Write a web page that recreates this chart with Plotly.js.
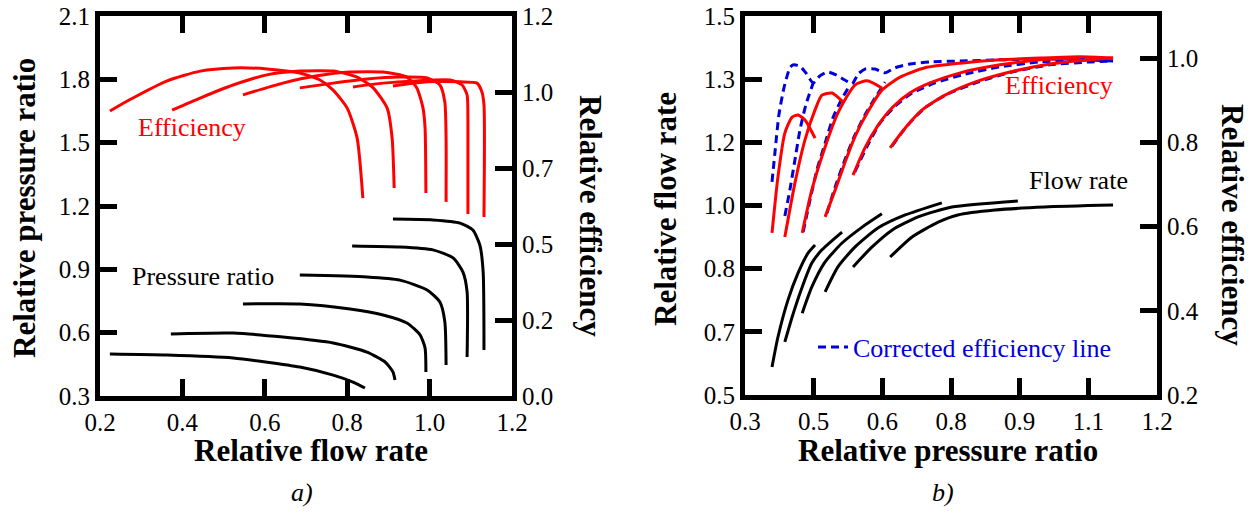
<!DOCTYPE html>
<html>
<head>
<meta charset="utf-8">
<script src="https://cdn.plot.ly/plotly-3.0.1.min.js"></script>
<style>html,body{margin:0;padding:0;background:#fff;}#chart{width:1259px;height:517px;}</style>
</head>
<body>
<div id="chart"></div>
<script>
// ---------- Panel a) : efficiency (right axis) vs relative flow rate ----------
const effA1_x = [0.224,0.280,0.363,0.443,0.523,0.605,0.685,0.734,0.766,0.800,0.824,0.838];
const effA1_y = [0.900,0.941,0.995,1.026,1.036,1.033,1.020,0.998,0.966,0.909,0.815,0.625];
const effA2_x = [0.375,0.443,0.523,0.605,0.685,0.766,0.824,0.863,0.897,0.909,0.914];
const effA2_y = [0.903,0.941,0.982,1.014,1.026,1.026,1.007,0.973,0.909,0.815,0.657];
const effA3_x = [0.547,0.644,0.727,0.807,0.887,0.945,0.969,0.984,0.989,0.991];
const effA3_y = [0.951,0.988,1.011,1.023,1.023,1.007,0.973,0.909,0.846,0.641];
const effA4_x = [0.685,0.766,0.848,0.928,0.994,1.025,1.037,1.040,1.040];
const effA4_y = [0.973,0.988,1.001,1.007,1.004,0.982,0.928,0.815,0.613];
const effA5_x = [0.814,0.887,0.969,1.050,1.079,1.091,1.093,1.093];
const effA5_y = [0.976,0.988,0.995,0.998,0.982,0.951,0.865,0.575];
const effA6_x = [0.911,0.994,1.074,1.115,1.127,1.132,1.132];
const effA6_y = [0.979,0.992,0.992,0.988,0.960,0.919,0.565];

// ---------- Panel a) : pressure ratio (left axis) vs relative flow rate ----------
const prA1_x = [0.911,1.008,1.074,1.105,1.122,1.130,1.132];
const prA1_y = [1.138,1.134,1.119,1.086,1.015,0.887,0.518];
const prA2_x = [0.812,0.928,1.008,1.057,1.081,1.091,1.091];
const prA2_y = [1.011,1.006,0.992,0.954,0.887,0.793,0.485];
const prA3_x = [0.685,0.848,0.928,0.994,1.025,1.037,1.040];
const prA3_y = [0.873,0.864,0.849,0.802,0.745,0.651,0.447];
const prA4_x = [0.547,0.685,0.807,0.887,0.945,0.977,0.989,0.991];
const prA4_y = [0.736,0.736,0.712,0.684,0.646,0.589,0.527,0.414];
const prA5_x = [0.372,0.523,0.644,0.766,0.848,0.892,0.911,0.916];
const prA5_y = [0.594,0.598,0.579,0.551,0.508,0.461,0.414,0.376];
const prA6_x = [0.224,0.363,0.523,0.685,0.766,0.814,0.843];
const prA6_y = [0.499,0.494,0.480,0.437,0.399,0.366,0.338];

// ---------- Panel b) : efficiency (right axis) vs relative pressure ratio ----------
const effB1_x = [0.359,0.372,0.387,0.403,0.416,0.431,0.453];
const effB1_y = [0.585,0.718,0.822,0.860,0.865,0.853,0.810];
const effB2_x = [0.387,0.409,0.431,0.453,0.468,0.490,0.514];
const effB2_y = [0.575,0.703,0.806,0.877,0.912,0.917,0.896];
const effB3_x = [0.425,0.446,0.475,0.503,0.540,0.567,0.599];
const effB3_y = [0.585,0.687,0.789,0.870,0.936,0.946,0.929];
const effB4_x = [0.475,0.497,0.518,0.540,0.567,0.599,0.639,0.693,0.770,0.857,0.944,1.032,1.104];
const effB4_y = [0.623,0.687,0.751,0.813,0.870,0.924,0.955,0.977,0.988,0.996,1.000,1.003,1.000];
const effB5_x = [0.536,0.562,0.591,0.623,0.660,0.704,0.770,0.857,0.944,1.032];
const effB5_y = [0.722,0.787,0.841,0.884,0.917,0.941,0.965,0.984,0.996,1.000];
const effB6_x = [0.617,0.650,0.687,0.737,0.802,0.879,0.966,1.054,1.104];
const effB6_y = [0.787,0.834,0.877,0.912,0.943,0.967,0.986,0.996,1.000];

// ---------- Panel b) : corrected efficiency lines ----------
const corEnv_x = [0.359,0.366,0.374,0.385,0.398,0.405,0.420,0.433,0.449,0.464,0.481,0.499,0.518,0.534,0.547,0.562,0.584,0.606,0.628,0.660,0.704,0.770,0.857,0.966,1.104];
const corEnv_y = [0.706,0.782,0.865,0.929,0.977,0.984,0.981,0.965,0.941,0.958,0.967,0.960,0.948,0.939,0.962,0.974,0.974,0.965,0.977,0.986,0.991,0.993,0.996,0.998,0.996];
const cor2_x = [0.387,0.398,0.409,0.420,0.433,0.449];
const cor2_y = [0.625,0.687,0.758,0.829,0.889,0.941];
const cor3_x = [0.427,0.442,0.457,0.475,0.492,0.510,0.529];
const cor3_y = [0.587,0.663,0.734,0.798,0.858,0.900,0.936];
const cor4_x = [0.479,0.497,0.518,0.540,0.562,0.584,0.606];
const cor4_y = [0.632,0.694,0.758,0.817,0.865,0.905,0.943];
const cor5_x = [0.540,0.567,0.595,0.628,0.665,0.715,0.781,0.857,0.944,1.032,1.104];
const cor5_y = [0.730,0.791,0.846,0.886,0.917,0.941,0.962,0.979,0.991,0.996,0.993];
const cor6_x = [0.621,0.654,0.693,0.743,0.809,0.883,0.966,1.054,1.104];
const cor6_y = [0.791,0.839,0.882,0.915,0.943,0.967,0.984,0.991,0.993];

// ---------- Panel b) : flow rate (left axis) vs relative pressure ratio ----------
const flB1_x = [0.359,0.372,0.394,0.416,0.438,0.453];
const flB1_y = [0.574,0.653,0.751,0.822,0.875,0.896];
const flB2_x = [0.387,0.403,0.425,0.446,0.468,0.512];
const flB2_y = [0.640,0.706,0.785,0.848,0.883,0.930];
const flB3_x = [0.425,0.446,0.475,0.512,0.556,0.599];
const flB3_y = [0.716,0.785,0.851,0.901,0.943,0.978];
const flB4_x = [0.475,0.503,0.540,0.591,0.650,0.730];
const flB4_y = [0.772,0.838,0.890,0.941,0.975,1.007];
const flB5_x = [0.536,0.577,0.621,0.678,0.752,0.896];
const flB5_y = [0.838,0.890,0.935,0.970,0.996,1.012];
const flB6_x = [0.617,0.665,0.722,0.765,0.846,0.955,1.104];
const flB6_y = [0.864,0.917,0.956,0.975,0.988,0.996,1.001];

// ---------- tick labels ----------
const ticksA_x = [0.2,0.4,0.6,0.8,1.0,1.2];
const ticksA_xText = ['0.2','0.4','0.6','0.8','1.0','1.2'];
const ticksA_y = [0.3,0.6,0.9,1.2,1.5,1.8,2.1];
const ticksA_yText = ['0.3','0.6','0.9','1.2','1.5','1.8','2.1'];
const ticksA_y2 = [0,0.24,0.48,0.72,0.96,1.2];
const ticksA_y2Text = ['0.0','0.2','0.5','0.7','1.0','1.2'];
const ticksB_x = [0.3,0.45,0.6,0.75,0.9,1.05,1.2];
const ticksB_xText = ['0.3','0.5','0.6','0.8','0.9','1.1','1.2'];
const ticksB_y = [0.5,0.6667,0.8333,1.0,1.1667,1.3333,1.5];
const ticksB_yText = ['0.5','0.7','0.8','1.0','1.2','1.3','1.5'];
const ticksB_y2 = [0.2,0.4,0.6,0.8,1.0];
const ticksB_y2Text = ['0.2','0.4','0.6','0.8','1.0'];

const FONT = 'Liberation Serif';

function tr(x, y, xa, ya, color, width, dash, name, show) {
  return {x: x, y: y, xaxis: xa, yaxis: ya, type: 'scatter', mode: 'lines',
    line: {color: color, width: width, dash: dash || 'solid', shape: 'spline', smoothing: 0.6},
    name: name || '', showlegend: !!show, hoverinfo: 'skip'};
}

const traces = [];
[[prA1_x,prA1_y],[prA2_x,prA2_y],[prA3_x,prA3_y],[prA4_x,prA4_y],[prA5_x,prA5_y],[prA6_x,prA6_y]]
  .forEach(p => traces.push(tr(p[0], p[1], 'x', 'y', 'black', 3)));
[[effA1_x,effA1_y],[effA2_x,effA2_y],[effA3_x,effA3_y],[effA4_x,effA4_y],[effA5_x,effA5_y],[effA6_x,effA6_y]]
  .forEach(p => traces.push(tr(p[0], p[1], 'x', 'y2', 'red', 3)));
[[flB1_x,flB1_y],[flB2_x,flB2_y],[flB3_x,flB3_y],[flB4_x,flB4_y],[flB5_x,flB5_y],[flB6_x,flB6_y]]
  .forEach(p => traces.push(tr(p[0], p[1], 'x2', 'y3', 'black', 3)));
[[corEnv_x,corEnv_y],[cor2_x,cor2_y],[cor3_x,cor3_y],[cor4_x,cor4_y],[cor5_x,cor5_y],[cor6_x,cor6_y]]
  .forEach((p, i) => traces.push(tr(p[0], p[1], 'x2', 'y4', '#0000dd', 3, '8px,5px', 'Corrected efficiency line', i === 0)));
[[effB1_x,effB1_y],[effB2_x,effB2_y],[effB3_x,effB3_y],[effB4_x,effB4_y],[effB5_x,effB5_y],[effB6_x,effB6_y]]
  .forEach(p => traces.push(tr(p[0], p[1], 'x2', 'y4', 'red', 3)));

const W = 1259, H = 517;
function pxX(v) { return v / W; }
function pxY(v) { return 1 - v / H; }

function ax(extra) {
  return Object.assign({
    showline: true, linewidth: 5, linecolor: 'black', showgrid: false, zeroline: false,
    ticks: 'inside', ticklen: 17, tickwidth: 5, tickcolor: 'black',
    tickfont: {family: FONT, size: 25, color: 'black'}, tickmode: 'array', fixedrange: true
  }, extra);
}

const annSpec = [
  ['<b>Relative pressure ratio</b>', 24, 208, -90, 31, 'black'],
  ['<b>Relative efficiency</b>', 591, 216, 90, 31, 'black'],
  ['<b>Relative flow rate</b>', 311, 450, 0, 31, 'black'],
  ['<b>Relative flow rate</b>', 665, 209, -90, 31, 'black'],
  ['<b>Relative efficiency</b>', 1233, 225, 90, 31, 'black'],
  ['<b>Relative pressure ratio</b>', 948, 450, 0, 31, 'black'],
  ['<i>a)</i>', 302, 492, 0, 26, 'black'],
  ['<i>b)</i>', 943, 492, 0, 26, 'black'],
  ['Efficiency', 192, 127, 0, 26, 'red'],
  ['Pressure ratio', 203, 276, 0, 26, 'black'],
  ['Efficiency', 1059, 86, 0, 26, 'red'],
  ['Flow rate', 1078, 180, 0, 26, 'black']
];

const layout = {
  width: W, height: H, margin: {l: 0, r: 0, t: 0, b: 0},
  paper_bgcolor: 'white', plot_bgcolor: 'rgba(0,0,0,0)',
  font: {family: FONT, size: 25, color: 'black'},
  xaxis: ax({domain: [pxX(100), pxX(512)], anchor: 'y', range: [0.2, 1.2],
    tickvals: ticksA_x, ticktext: ticksA_xText, mirror: 'ticks'}),
  yaxis: ax({domain: [pxY(396), pxY(16)], anchor: 'x', range: [0.3, 2.1],
    tickvals: ticksA_y, ticktext: ticksA_yText}),
  yaxis2: ax({overlaying: 'y', side: 'right', anchor: 'x', range: [0, 1.2],
    tickvals: ticksA_y2, ticktext: ticksA_y2Text}),
  xaxis2: ax({domain: [pxX(745), pxX(1157)], anchor: 'y3', range: [0.3, 1.2],
    tickvals: ticksB_x, ticktext: ticksB_xText, mirror: 'ticks'}),
  yaxis3: ax({domain: [pxY(395), pxY(16)], anchor: 'x2', range: [0.5, 1.5],
    tickvals: ticksB_y, ticktext: ticksB_yText}),
  yaxis4: ax({overlaying: 'y3', side: 'right', anchor: 'x2', range: [0.2, 1.1],
    tickvals: ticksB_y2, ticktext: ticksB_y2Text}),
  showlegend: true,
  legend: {x: pxX(813), y: pxY(347), xanchor: 'left', yanchor: 'middle', bgcolor: 'rgba(0,0,0,0)',
    borderwidth: 0, font: {family: FONT, size: 26, color: '#0000dd'}, itemwidth: 30},
  annotations: annSpec.map(a => ({
    text: a[0], x: pxX(a[1]), y: pxY(a[2]), xref: 'paper', yref: 'paper', showarrow: false,
    xanchor: 'center', yanchor: 'middle', textangle: a[3],
    font: {family: FONT, size: a[4], color: a[5]}
  }))
};

Plotly.newPlot('chart', traces, layout, {displayModeBar: false});
</script>
</body>
</html>
